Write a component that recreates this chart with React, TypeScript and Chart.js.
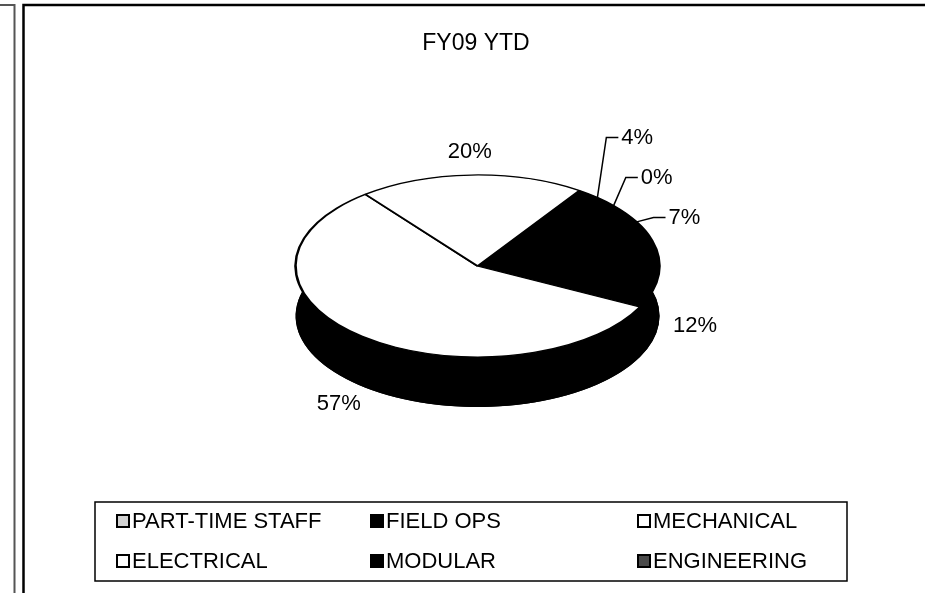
import React, { useEffect, useRef } from 'react';
import { Chart, registerables } from 'chart.js';

Chart.register(...registerables);

// ---- data ----
const chartTitle = 'FY09 YTD';
const categories = ['PART-TIME STAFF', 'FIELD OPS', 'MECHANICAL', 'ELECTRICAL', 'MODULAR', 'ENGINEERING'];
const shares = [4, 0, 7, 12, 57, 20];
const sliceColors = ['#000000', '#000000', '#000000', '#000000', '#ffffff', '#ffffff'];
const legendColors = ['#d2d2d2', '#000000', '#ffffff', '#ffffff', '#000000', '#4a4a4a'];

// ---- styling / layout ----
const FONT = '"Liberation Sans", Arial, Helvetica, sans-serif';
const PIE_CX = 477.5;
const PIE_CY = 266;
const PIE_R = 182;
const TILT = 0.5;
const DEPTH = 50;
const SIDE_COLOR = '#000000';

const pie3d = {
  id: 'pie3d',
  beforeDatasetsDraw(chart: any) {
    const meta = chart.getDatasetMeta(0);
    const arcs = meta.data;
    const ctx = chart.ctx;
    ctx.save();
    if (!arcs.length) return;
    const cx = arcs[0].x;
    const cy = arcs[0].y;
    ctx.translate(PIE_CX, PIE_CY);
    ctx.scale(1, TILT);
    ctx.translate(-cx, -cy);
    const D = DEPTH / TILT;
    ctx.fillStyle = SIDE_COLOR;
    ctx.strokeStyle = SIDE_COLOR;
    for (const arc of arcs) {
      const { startAngle, endAngle, outerRadius } = arc.getProps(['startAngle', 'endAngle', 'outerRadius'], true);
      if (endAngle - startAngle <= 0) continue;
      ctx.beginPath();
      ctx.arc(cx, cy, outerRadius, startAngle, endAngle);
      ctx.arc(cx, cy + D, outerRadius, endAngle, startAngle, true);
      ctx.closePath();
      ctx.fill();
      ctx.beginPath();
      ctx.moveTo(cx, cy + D);
      ctx.arc(cx, cy + D, outerRadius, startAngle, endAngle);
      ctx.closePath();
      ctx.fill();
    }
  },
  afterDatasetsDraw(chart: any) {
    const ctx = chart.ctx;
    ctx.restore();
    const meta = chart.getDatasetMeta(0);
    const arcs = meta.data;
    const values: number[] = chart.data.datasets[0].data;
    const total = values.reduce((a: number, b: number) => a + b, 0);
    const rx = PIE_R;
    const ry = PIE_R * TILT;
    const items = arcs.map((arc: any, i: number) => {
      const { startAngle, endAngle } = arc.getProps(['startAngle', 'endAngle'], true);
      const mid = (startAngle + endAngle) / 2;
      const ux = Math.cos(mid);
      const uy = Math.sin(mid);
      const pct = Math.round((values[i] / total) * 100);
      const small = pct < 10;
      const front = uy > 0 ? DEPTH : 0;
      return {
        pct,
        small,
        ex: PIE_CX + rx * ux,
        ey: PIE_CY + ry * uy,
        lx: PIE_CX + 1.2 * rx * ux,
        ly: PIE_CY + (small ? 1.1 : 1.25) * ry * uy + front,
      };
    });
    // stack the small (leader-line) labels so they do not overlap
    let nextY: number | null = null;
    for (let i = items.length - 1; i >= 0; i--) {
      const it = items[i];
      if (!it.small) { nextY = null; continue; }
      if (nextY !== null) it.ly = Math.min(it.ly, nextY - 40);
      nextY = it.ly;
    }
    ctx.save();
    ctx.fillStyle = '#000';
    ctx.strokeStyle = '#000';
    ctx.lineWidth = 1.5;
    ctx.font = `22px ${FONT}`;
    ctx.textBaseline = 'middle';
    for (const it of items) {
      const txt = `${it.pct}%`;
      if (it.small) {
        ctx.beginPath();
        ctx.moveTo(it.ex, it.ey);
        ctx.lineTo(it.lx - 15, it.ly);
        ctx.lineTo(it.lx - 3, it.ly);
        ctx.stroke();
        ctx.textAlign = 'left';
        ctx.fillText(txt, it.lx, it.ly);
      } else {
        ctx.textAlign = 'center';
        ctx.fillText(txt, it.lx, it.ly);
      }
    }
    ctx.restore();
  },
};

const frame = {
  id: 'frame',
  beforeDraw(chart: any) {
    const ctx = chart.ctx;
    const w = chart.width;
    const h = chart.height;
    ctx.save();
    ctx.fillStyle = '#fff';
    ctx.fillRect(0, 0, w, h);
    ctx.strokeStyle = '#555';
    ctx.lineWidth = 2;
    ctx.beginPath();
    ctx.moveTo(0, 5);
    ctx.lineTo(14.5, 5);
    ctx.lineTo(14.5, h);
    ctx.stroke();
    ctx.strokeStyle = '#000';
    ctx.lineWidth = 2.5;
    ctx.beginPath();
    ctx.moveTo(23.5, h);
    ctx.lineTo(23.5, 5);
    ctx.lineTo(w, 5);
    ctx.stroke();
    ctx.restore();
  },
};

const boxLegend = {
  id: 'boxLegend',
  afterDraw(chart: any) {
    const ctx = chart.ctx;
    const labels: string[] = chart.data.labels;
    const box = { left: 95, top: 502, right: 847, bottom: 581 };
    const cols = [116, 370, 637];
    const rows = [521, 561];
    const size = 14;
    ctx.save();
    ctx.strokeStyle = '#000';
    ctx.lineWidth = 1.5;
    ctx.strokeRect(box.left, box.top, box.right - box.left, box.bottom - box.top);
    ctx.font = `22px ${FONT}`;
    ctx.textBaseline = 'middle';
    ctx.textAlign = 'left';
    labels.forEach((lab, i) => {
      const x = cols[i % 3];
      const y = rows[Math.floor(i / 3)];
      ctx.fillStyle = legendColors[i];
      ctx.fillRect(x, y - size / 2, size, size);
      ctx.lineWidth = 2;
      ctx.strokeStyle = '#000';
      ctx.strokeRect(x + 1, y - size / 2 + 1, size - 2, size - 2);
      ctx.fillStyle = '#000';
      ctx.fillText(lab, x + 16, y + 1);
    });
    ctx.restore();
  },
};

export default function App() {
  const ref = useRef<HTMLCanvasElement | null>(null);
  useEffect(() => {
    if (!ref.current) return;
    const chart = new Chart(ref.current, {
      type: 'pie',
      data: {
        labels: categories,
        datasets: [
          {
            data: shares,
            backgroundColor: sliceColors,
            borderColor: '#000000',
            borderWidth: 2.5,
            radius: PIE_R,
          } as any,
        ],
      },
      options: {
        responsive: false,
        animation: false,
        events: [],
        rotation: 34,
        layout: { padding: { left: 27 } },
        plugins: {
          legend: { display: false },
          tooltip: { enabled: false },
          title: {
            display: true,
            text: chartTitle,
            color: '#000',
            font: { family: FONT, size: 23, weight: 'normal' as any },
            padding: { top: 30, bottom: 10 },
          },
        },
      } as any,
      plugins: [frame, pie3d, boxLegend],
    });
    return () => chart.destroy();
  }, []);
  return (
    <div style={{ position: 'fixed', left: 0, top: 0, width: 925, height: 593, background: '#fff' }}>
      <canvas ref={ref} width={925} height={593} style={{ display: 'block', width: 925, height: 593 }} />
    </div>
  );
}
